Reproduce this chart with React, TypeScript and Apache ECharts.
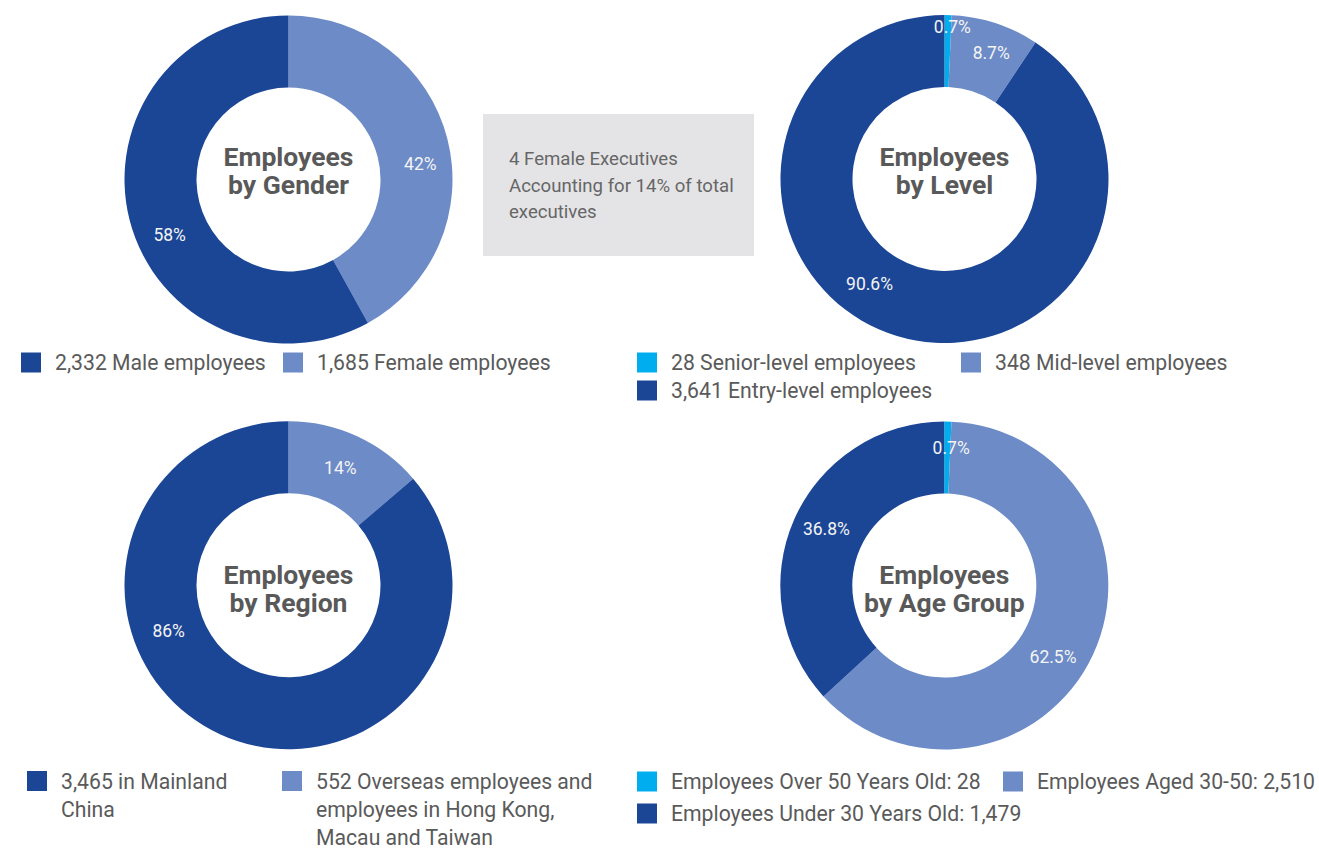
import React, { useEffect, useRef } from "react";
import * as echarts from "echarts";

// ---------- data ----------
const genderNames = ["1,685 Female employees", "2,332 Male employees"];
const genderValues = [1685, 2332];

const levelNames = ["28 Senior-level employees", "348 Mid-level employees", "3,641 Entry-level employees"];
const levelValues = [28, 348, 3641];

const regionNames = [
  "552 Overseas employees and employees in Hong Kong, Macau and Taiwan",
  "3,465 in Mainland China",
];
const regionValues = [552, 3465];

const ageNames = [
  "Employees Over 50 Years Old: 28",
  "Employees Aged 30-50: 2,510",
  "Employees Under 30 Years Old: 1,479",
];
const ageValues = [28, 2510, 1479];

const titles = ["Employees\nby Gender", "Employees\nby Level", "Employees\nby Region", "Employees\nby Age Group"];
const noteText = "4 Female Executives\nAccounting for 14% of total\nexecutives";

// ---------- styles ----------
const DARK = "#1b4696";
const LIGHT = "#6c8bc7";
const CYAN = "#00aeef";
const FONT = "Roboto";
const TEXT_GREY = "#5a5a5a";

const genderColors = [LIGHT, DARK];
const levelColors = [CYAN, LIGHT, DARK];
const regionColors = [LIGHT, DARK];
const ageColors = [CYAN, LIGHT, DARK];

const genderOffsets = [[5, 17], [8, 23]];
const levelOffsets = [[5, -21], [6, -1], [-37, -20]];
const regionOffsets = [[-3, 2], [-65, -73]];
const ageOffsets = [[4, -7], [-10, 16], [2, -4]];

const centers = [
  [288.5, 179.5],
  [944.5, 179],
  [288.5, 585.3],
  [944.3, 585.5],
];
const titleY = [170, 170, 588, 588];

const legendDisplay: Record<string, string[]> = {
  "3,465 in Mainland China": ["3,465 in Mainland", "China"],
  "552 Overseas employees and employees in Hong Kong, Macau and Taiwan": [
    "552 Overseas employees and",
    "employees in Hong Kong,",
    "Macau and Taiwan",
  ],
};

const legendPlaces: [string, number, number][] = [
  ["2,332 Male employees", 21, 352],
  ["1,685 Female employees", 283, 352],
  ["28 Senior-level employees", 637, 352],
  ["348 Mid-level employees", 961, 352],
  ["3,641 Entry-level employees", 637, 380],
  ["3,465 in Mainland China", 27, 771],
  ["552 Overseas employees and employees in Hong Kong, Macau and Taiwan", 282, 771],
  ["Employees Over 50 Years Old: 28", 637, 771],
  ["Employees Aged 30-50: 2,510", 1003, 771],
  ["Employees Under 30 Years Old: 1,479", 637, 803],
];

function makePie(
  names: string[],
  values: number[],
  colors: string[],
  offsets: number[][],
  center: number[],
  decimals: number
) {
  return {
    type: "pie",
    center,
    radius: [92, 164],
    startAngle: 90,
    clockwise: true,
    avoidLabelOverlap: false,
    silent: true,
    emphasis: { disabled: true },
    label: {
      show: true,
      position: "inside",
      color: "#f4f4f4",
      fontSize: 17.5,
      fontFamily: FONT,
      formatter: (p: any) => (decimals === 0 ? Math.round(p.percent) : p.percent.toFixed(decimals)) + "%",
    },
    labelLine: { show: false },
    labelLayout: (p: any) => ({ dx: offsets[p.dataIndex][0], dy: offsets[p.dataIndex][1] }),
    data: names.map((n, i) => ({ name: n, value: values[i], itemStyle: { color: colors[i] } })),
  };
}

function makeLegend(name: string, left: number, iconTop: number) {
  const lines = legendDisplay[name] || [name];
  const multi = lines.length > 1;
  const LH = multi ? 28.3 : 20;
  const padded = Array(lines.length - 1).fill("").concat(lines);
  const total = padded.length;
  const top = iconTop - (total * LH) / 2 + 10;
  return {
    show: true,
    data: [name],
    left,
    top,
    padding: 0,
    orient: "horizontal",
    icon: "rect",
    itemWidth: 20,
    itemHeight: 20,
    selectedMode: false,
    formatter: () => padded.join("\n"),
    textStyle: {
      fontFamily: FONT,
      fontSize: 21.2,
      color: TEXT_GREY,
      lineHeight: LH,
      padding: [0, 0, 0, 9],
    },
  };
}

export default function App() {
  const ref = useRef<HTMLDivElement>(null);
  useEffect(() => {
    if (!ref.current) return;
    const chart = echarts.init(ref.current, undefined, { renderer: "svg" });
    const option: any = {
      animation: false,
      backgroundColor: "#ffffff",
      series: [
        makePie(genderNames, genderValues, genderColors, genderOffsets, centers[0], 0),
        makePie(levelNames, levelValues, levelColors, levelOffsets, centers[1], 1),
        makePie(regionNames, regionValues, regionColors, regionOffsets, centers[2], 0),
        makePie(ageNames, ageValues, ageColors, ageOffsets, centers[3], 1),
      ],
      legend: legendPlaces.map(([n, l, t]) => makeLegend(n, l, t)),
      graphic: [
        {
          type: "rect",
          shape: { x: 483, y: 114, width: 271, height: 142 },
          style: { fill: "#e4e4e6" },
          silent: true,
        },
        {
          type: "text",
          x: 509,
          y: 185.5,
          style: {
            text: noteText,
            fontFamily: FONT,
            fontSize: 18.6,
            lineHeight: 26.7,
            fill: "#666666",
            align: "left",
            verticalAlign: "middle",
          },
          silent: true,
        },
        ...titles.map((t, i) => ({
          type: "text",
          x: centers[i][0],
          y: titleY[i],
          style: {
            text: t,
            fontFamily: FONT,
            fontSize: 26.5,
            fontWeight: "bold",
            lineHeight: 28,
            fill: "#595959",
            align: "center",
            verticalAlign: "middle",
          },
          silent: true,
        })),
      ],
    };
    chart.setOption(option);
    return () => chart.dispose();
  }, []);
  return (
    <div
      ref={ref}
      style={{ position: "absolute", left: 0, top: 0, width: 1319, height: 848 }}
    />
  );
}
